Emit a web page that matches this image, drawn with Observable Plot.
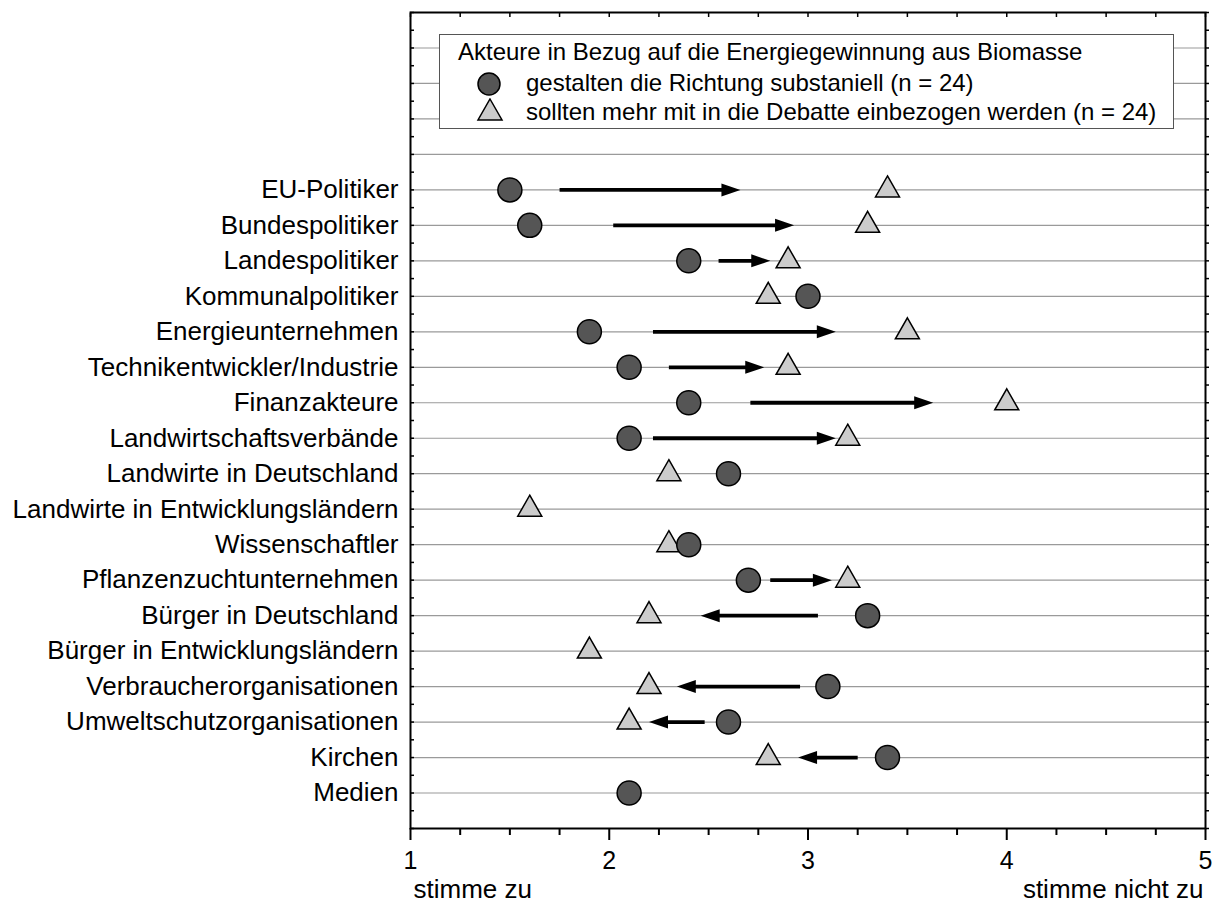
<!DOCTYPE html>
<html>
<head>
<meta charset="utf-8">
<script src="https://cdn.jsdelivr.net/npm/d3@7"></script>
<script src="https://cdn.jsdelivr.net/npm/@observablehq/plot@0.6"></script>
<style>
  body { margin: 0; background: #fff; }
  #wrap { position: relative; width: 1218px; height: 903px; font-family: "Liberation Sans", Arial, sans-serif; }
  #legend { position: absolute; left: 439px; top: 34px; width: 733px; height: 93px; border: 1px solid #555; background: #fff; font-size: 24px; color: #000; }
  #legend .t { position: absolute; white-space: nowrap; line-height: 30px; }
  #legend svg { position: absolute; }
</style>
</head>
<body>
<div id="wrap">
  <div id="chart"></div>
  <div id="legend">
    <div class="t" style="left:18px; top:2px;">Akteure in Bezug auf die Energiegewinnung aus Biomasse</div>
    <svg width="30" height="30" style="left:34px; top:34px;"><circle cx="15" cy="15" r="11" fill="#555" stroke="#000" stroke-width="1.5"/></svg>
    <div class="t" style="left:86px; top:33px;">gestalten die Richtung substaniell (n = 24)</div>
    <svg width="30" height="30" style="left:35px; top:63px;"><path d="M15,1 L27,22 L3,22 Z" fill="#ccc" stroke="#000" stroke-width="1.5"/></svg>
    <div class="t" style="left:86px; top:62px;">sollten mehr mit in die Debatte einbezogen werden (n = 24)</div>
  </div>
</div>
<script>
const categories = [
  "EU-Politiker", "Bundespolitiker", "Landespolitiker", "Kommunalpolitiker",
  "Energieunternehmen", "Technikentwickler/Industrie", "Finanzakteure",
  "Landwirtschaftsverbände", "Landwirte in Deutschland", "Landwirte in Entwicklungsländern",
  "Wissenschaftler", "Pflanzenzuchtunternehmen", "Bürger in Deutschland",
  "Bürger in Entwicklungsländern", "Verbraucherorganisationen", "Umweltschutzorganisationen",
  "Kirchen", "Medien"
];
// "gestalten die Richtung substaniell" (circles)
const gestalten = [1.5, 1.6, 2.4, 3.0, 1.9, 2.1, 2.4, 2.1, 2.6, null, 2.4, 2.7, 3.3, null, 3.1, 2.6, 3.4, 2.1];
// "sollten mehr mit in die Debatte einbezogen werden" (triangles)
const einbezogen = [3.4, 3.3, 2.9, 2.8, 3.5, 2.9, 4.0, 3.2, 2.3, 1.6, 2.3, 3.2, 2.2, 1.9, 2.2, 2.1, 2.8, null];
// arrows (start, tip)
const arrowFrom = [1.75, 2.02, 2.55, null, 2.22, 2.30, 2.71, 2.22, null, null, null, 2.81, 3.05, null, 2.96, 2.48, 3.25, null];
const arrowTo   = [2.66, 2.93, 2.81, null, 3.14, 2.78, 3.63, 3.14, null, null, null, 3.12, 2.46, null, 2.34, 2.20, 2.95, null];
const xTicks = [1, 2, 3, 4, 5];
const firstRow = 5;      // rows 1..4 lie behind the legend
const gridRows = d3.range(1, 23);

const rows = categories.map((name, i) => ({
  name, pos: firstRow + i, g: gestalten[i], e: einbezogen[i], from: arrowFrom[i], to: arrowTo[i]
}));
const arrows = rows.filter(d => d.from != null);

const headRight = { draw(ctx) { ctx.moveTo(0, 0); ctx.lineTo(-19, -6.5); ctx.lineTo(-19, 6.5); ctx.closePath(); } };
const headLeft  = { draw(ctx) { ctx.moveTo(0, 0); ctx.lineTo(19, -6.5); ctx.lineTo(19, 6.5); ctx.closePath(); } };
const triangle  = { draw(ctx) { ctx.moveTo(0, -14); ctx.lineTo(12, 7); ctx.lineTo(-12, 7); ctx.closePath(); } };

const minor = d3.range(1, 5.001, 0.25).filter(v => Math.abs(v - Math.round(v)) > 1e-6);
const quarter = d3.range(1, 5.001, 0.25);
const halfRows = d3.range(0, 23.001, 0.5);
const blank = () => "";

const chart = Plot.plot({
  width: 1218,
  height: 903,
  marginLeft: 410,
  marginRight: 13,
  marginTop: 12,
  marginBottom: 75,
  x: { domain: [1, 5], label: null },
  y: { domain: [0, 23], reverse: true, label: null },
  style: { fontFamily: "'Liberation Sans', Arial, sans-serif", fontSize: "24px", color: "black", background: "white" },
  marks: [
    Plot.ruleY(gridRows, { stroke: "#9a9a9a", strokeWidth: 1.2 }),
    Plot.link(arrows, {
      x1: "from", x2: d => d.to - Math.sign(d.to - d.from) * 0.06,
      y1: "pos", y2: "pos", stroke: "black", strokeWidth: 3.8
    }),
    Plot.dot(arrows.filter(d => d.to > d.from), { x: "to", y: "pos", symbol: headRight, fill: "black", r: 5 }),
    Plot.dot(arrows.filter(d => d.to < d.from), { x: "to", y: "pos", symbol: headLeft, fill: "black", r: 5 }),
    Plot.dot(rows.filter(d => d.e != null), { x: "e", y: "pos", symbol: triangle, r: 9, fill: "#cccccc", stroke: "black", strokeWidth: 1.5 }),
    Plot.dot(rows.filter(d => d.g != null), { x: "g", y: "pos", r: 12, fill: "#555555", stroke: "black", strokeWidth: 1.5 }),
    Plot.text(rows, { frameAnchor: "left", y: "pos", text: "name", textAnchor: "end", dx: -12, fontSize: 26, fill: "black" }),
    Plot.axisX({ ticks: xTicks, tickSize: 12, tickPadding: 11, tickFormat: d => String(d), fontSize: 25, strokeWidth: 2, label: null }),
    Plot.axisX({ ticks: minor, tickSize: 7, tickFormat: blank, strokeWidth: 2, label: null }),
    Plot.axisX({ anchor: "top", ticks: quarter, tickSize: -4, tickFormat: blank, strokeWidth: 1.5, label: null }),
    Plot.axisY({ anchor: "left", ticks: halfRows, tickSize: -4, tickFormat: blank, strokeWidth: 1.5, label: null }),
    Plot.axisY({ anchor: "right", ticks: halfRows, tickSize: 3, tickFormat: blank, strokeWidth: 1.5, label: null }),
    Plot.text(["stimme zu"], { frameAnchor: "bottom-left", textAnchor: "start", dx: 3, dy: 69, fontSize: 26, fill: "black" }),
    Plot.text(["stimme nicht zu"], { frameAnchor: "bottom-right", textAnchor: "end", dx: -2, dy: 69, fontSize: 26, fill: "black" }),
    Plot.frame({ stroke: "black", strokeWidth: 2 })
  ]
});
document.getElementById("chart").appendChild(chart);
</script>
</body>
</html>
